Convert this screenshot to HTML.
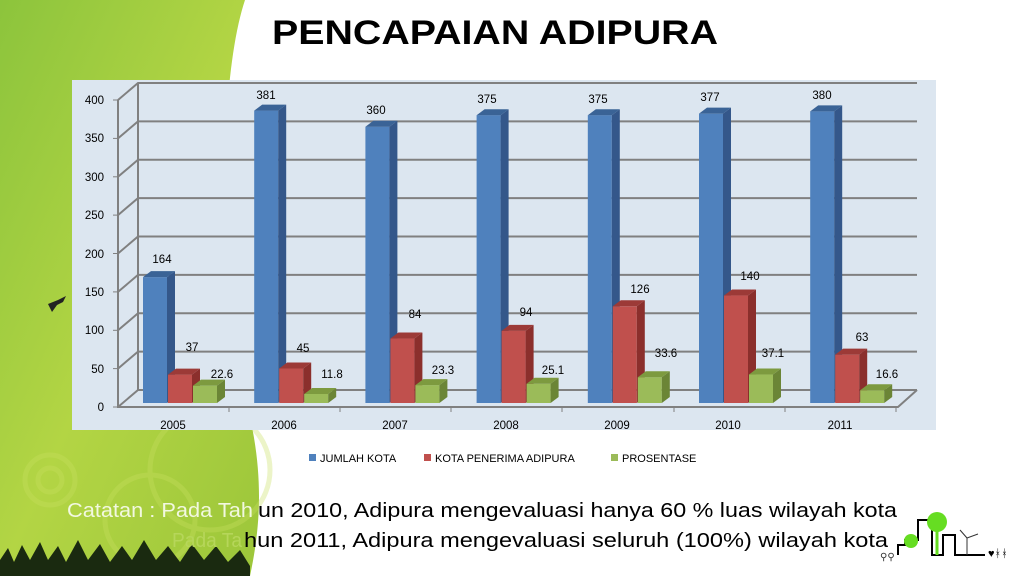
<!DOCTYPE html>
<html><head><meta charset="utf-8"><style>
html,body{margin:0;padding:0;background:#fff;}
svg{display:block;font-family:"Liberation Sans",sans-serif;}
</style></head><body>
<svg width="1024" height="576" viewBox="0 0 1024 576" xmlns="http://www.w3.org/2000/svg">
<defs>
<linearGradient id="gg" x1="0" y1="0" x2="1" y2="1">
<stop offset="0" stop-color="#8cc43c"/><stop offset="0.5" stop-color="#b3d544"/><stop offset="1" stop-color="#9cc63a"/>
</linearGradient>
</defs>
<rect width="1024" height="576" fill="#fff"/>
<path d="M0,0 L245,0 C225,60 215,200 240,380 C265,460 262,520 250,576 L0,576 Z" fill="url(#gg)"/>
<g fill="none" stroke="#c8e060" stroke-width="5" opacity="0.35">
<circle cx="50" cy="480" r="25"/><circle cx="50" cy="480" r="12"/>
<circle cx="150" cy="520" r="45"/><circle cx="210" cy="470" r="60"/>
</g>
<path d="M0,576 L0,560 L8,548 L14,562 L22,545 L30,560 L40,542 L48,560 L58,546 L66,562 L78,540 L88,560 L100,544 L110,562 L122,546 L132,560 L144,540 L156,560 L168,546 L180,562 L192,544 L204,560 L216,546 L228,562 L240,550 L250,566 L250,576 Z" fill="#1a2a10"/>
<path d="M48,304 L58,300 L66,296 L63,302 L57,305 L52,312 Z" fill="#222"/>
<text x="272" y="44" font-size="34" font-weight="bold" fill="#000" textLength="446" lengthAdjust="spacingAndGlyphs">PENCAPAIAN ADIPURA</text>
<rect x="72" y="80" width="864" height="350" fill="#dce6f0"/>
<g stroke="#808080" stroke-width="2" fill="none">
<path d="M118,407 L138,390 L917,390"/>
<path d="M118,368.6 L138,351.6 L917,351.6"/>
<path d="M118,330.3 L138,313.3 L917,313.3"/>
<path d="M118,291.9 L138,274.9 L917,274.9"/>
<path d="M118,253.5 L138,236.5 L917,236.5"/>
<path d="M118,215.1 L138,198.1 L917,198.1"/>
<path d="M118,176.8 L138,159.8 L917,159.8"/>
<path d="M118,138.4 L138,121.4 L917,121.4"/>
<path d="M118,100 L138,83 L917,83"/>
<path d="M118,100 L118,407 L898,407 L917,390"/>
<path d="M138,83 L138,390"/>
</g>
<g stroke="#808080" stroke-width="1">
<line x1="113" y1="407" x2="118" y2="407"/><line x1="113" y1="368.6" x2="118" y2="368.6"/><line x1="113" y1="330.3" x2="118" y2="330.3"/><line x1="113" y1="291.9" x2="118" y2="291.9"/><line x1="113" y1="253.5" x2="118" y2="253.5"/><line x1="113" y1="215.1" x2="118" y2="215.1"/><line x1="113" y1="176.8" x2="118" y2="176.8"/><line x1="113" y1="138.4" x2="118" y2="138.4"/><line x1="113" y1="100" x2="118" y2="100"/>
<line x1="229" y1="407" x2="229" y2="412"/><line x1="340" y1="407" x2="340" y2="412"/><line x1="451" y1="407" x2="451" y2="412"/><line x1="562" y1="407" x2="562" y2="412"/><line x1="674" y1="407" x2="674" y2="412"/><line x1="785" y1="407" x2="785" y2="412"/><line x1="896" y1="407" x2="896" y2="412"/>
</g>
<g font-size="11.5" fill="#000" text-anchor="end">
<text x="104" y="411">0</text><text x="104" y="373">50</text><text x="104" y="334">100</text><text x="104" y="296">150</text><text x="104" y="258">200</text><text x="104" y="219">250</text><text x="104" y="181">300</text><text x="104" y="142">350</text><text x="104" y="104">400</text>
</g>
<g font-size="11.5" fill="#000" text-anchor="middle">
<text x="173" y="429">2005</text><text x="284" y="429">2006</text><text x="395" y="429">2007</text><text x="506" y="429">2008</text><text x="617" y="429">2009</text><text x="728" y="429">2010</text><text x="840" y="429">2011</text>
</g>
<g id="bars"></g>
<g font-size="11.5" fill="#000" text-anchor="middle">
<text x="162" y="263">164</text><text x="266" y="99">381</text><text x="376" y="114">360</text><text x="487" y="103">375</text><text x="598" y="103">375</text><text x="710" y="101">377</text><text x="822" y="99">380</text>
<text x="192" y="351">37</text><text x="303" y="352">45</text><text x="415" y="318">84</text><text x="526" y="316">94</text><text x="640" y="293">126</text><text x="750" y="280">140</text><text x="862" y="341">63</text>
<text x="222" y="378">22.6</text><text x="332" y="378">11.8</text><text x="443" y="374">23.3</text><text x="553" y="374">25.1</text><text x="666" y="357">33.6</text><text x="773" y="357">37.1</text><text x="887" y="378">16.6</text>
</g>
<g font-size="11" fill="#000">
<rect x="309" y="454" width="7" height="7" fill="#4f81bd"/><text x="320" y="462">JUMLAH KOTA</text>
<rect x="424" y="454" width="7" height="7" fill="#c0504d"/><text x="435" y="462">KOTA PENERIMA ADIPURA</text>
<rect x="611" y="454" width="7" height="7" fill="#9bbb59"/><text x="622" y="462">PROSENTASE</text>
</g>
<g font-size="20">
<text x="67" y="517" fill="#f2f8e0" textLength="186" lengthAdjust="spacingAndGlyphs">Catatan :  Pada Tah</text>
<text x="258" y="517" fill="#000" textLength="639" lengthAdjust="spacingAndGlyphs">un 2010, Adipura mengevaluasi hanya 60 % luas wilayah kota</text>
<text x="172" y="547" fill="#b6d65a" textLength="70" lengthAdjust="spacingAndGlyphs">Pada Ta</text>
<text x="244" y="547" fill="#000" textLength="644" lengthAdjust="spacingAndGlyphs">hun 2011, Adipura mengevaluasi seluruh (100%) wilayah kota</text>
</g>
<g stroke="#000" stroke-width="2" fill="none">
<path d="M898,555 L898,545 L905,545 L905,540 L918,540 L918,520 L932,520 L932,555 L943,555 L943,535 L955,535 L955,555 L985,555"/>
</g>
<circle cx="937" cy="522" r="10" fill="#66dd22"/><circle cx="911" cy="541" r="7" fill="#66dd22"/>
<line x1="937" y1="530" x2="937" y2="555" stroke="#66dd22" stroke-width="3"/>
<g stroke="#333" stroke-width="1"><line x1="967" y1="555" x2="967" y2="538"/><line x1="967" y1="538" x2="978" y2="534"/><line x1="967" y1="538" x2="960" y2="530"/></g>
<text x="988" y="557" font-size="11" fill="#000">♥ᚼᚼ</text>
<text x="880" y="560" font-size="10" fill="#333">⚲⚲</text>
</svg>
<script>
(function(){
var k=0.7675,base=403;
var data=[[164,37,22.6],[381,45,11.8],[360,84,23.3],[375,94,25.1],[375,126,33.6],[377,140,37.1],[380,63,16.6]];
var cols=[["#4f81bd","#3a6396","#34578a"],["#c0504d","#9c3a37","#8b2f2c"],["#9bbb59","#7d9a3f","#6b8536"]];
var offs=[-30,-5,20],w=24,dx=8,dy=6,g=document.getElementById("bars"),h="";
for(var i=0;i<7;i++){var c=173+i*111.2;
for(var s=0;s<3;s++){var x=c+offs[s],t=base-data[i][s]*k;
h+='<rect x="'+x+'" y="'+t+'" width="'+w+'" height="'+(base-t)+'" fill="'+cols[s][0]+'"/>';
h+='<polygon points="'+(x+w)+','+t+' '+(x+w+dx)+','+(t-dy)+' '+(x+w+dx)+','+(base-dy)+' '+(x+w)+','+base+'" fill="'+cols[s][2]+'"/>';
h+='<polygon points="'+x+','+t+' '+(x+dx)+','+(t-dy)+' '+(x+w+dx)+','+(t-dy)+' '+(x+w)+','+t+'" fill="'+cols[s][1]+'"/>';}}
g.innerHTML=h;})();
</script>
</body></html>
